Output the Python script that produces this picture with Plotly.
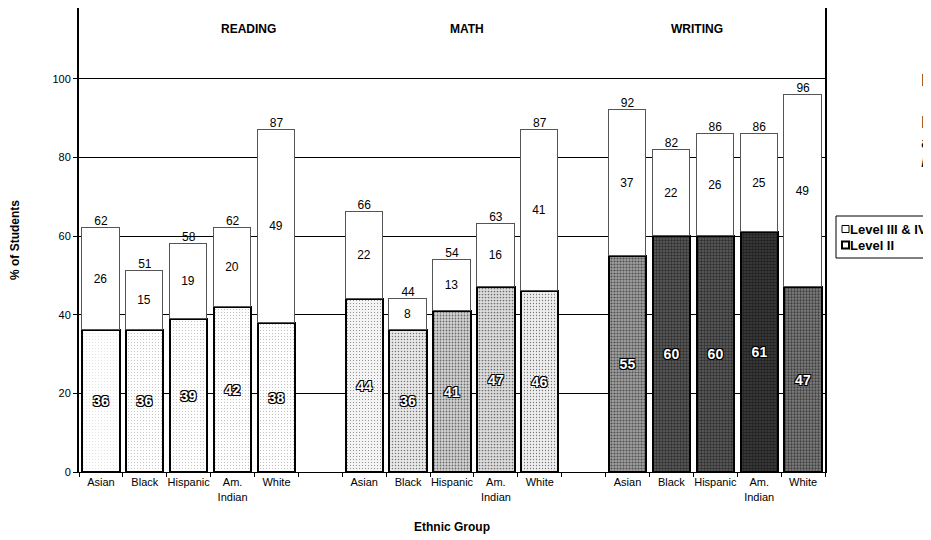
import plotly.graph_objects as go

# ethnic groups repeated for each subject, blank slot between subjects
groups = ['Asian', 'Black', 'Hispanic', 'Am.<br>Indian', 'White']
subjects = ['READING', 'MATH', 'WRITING']

level_2 = [36, 36, 39, 42, 38,
           44, 36, 41, 47, 46,
           55, 60, 60, 61, 47]
level_3_4 = [26, 15, 19, 20, 49,
             22, 8, 13, 16, 41,
             37, 22, 26, 25, 49]
totals = [62, 51, 58, 62, 87,
          66, 44, 54, 63, 87,
          92, 82, 86, 86, 96]

# the scanned Level II bars: background grey and density of the speckle
level_2_bg = ['white', 'white', 'white', 'white', 'white',
              '#f4f4f4', '#e8e8e8', '#d4d4d4', '#dcdcdc', '#eeeeee',
              '#a0a0a0', '#606060', '#606060', '#404040', '#808080']
level_2_speckle = [0.04, 0.05, 0.05, 0.07, 0.06,
                   0.1, 0.2, 0.3, 0.25, 0.15,
                   0.4, 0.5, 0.5, 0.6, 0.45]

legend_names = ['Level III & IV', 'Level II']
subject_label_pos = [3.37, 8.34, 13.58]
right_edge_text = ['F', 'F', 'a', '<i>M</i>']

x_pos = [s * 6 + g for s in range(len(subjects)) for g in range(len(groups))]
tick_text = groups * len(subjects)

FONT = 'Liberation Sans, Arial, sans-serif'
OUTLINE = '-1px -1px 0 #000, 1px -1px 0 #000, -1px 1px 0 #000, 1px 1px 0 #000'

# the page body keeps its 8px default margin, so the figure is 8px smaller
W, H = 923, 532
PLOT_L, PLOT_R, PLOT_T, PLOT_B = 79, 825, 8, 472   # page pixels


def px_x(x):
    return (x - PLOT_L) / (PLOT_R - PLOT_L)


def px_y(y):
    return (PLOT_B - y) / (PLOT_B - PLOT_T)


def bar_traces():
    '''stacked bars: Level II at the bottom, Level III & IV on top'''
    lower = go.Bar(
        x=x_pos, y=level_2, name=legend_names[1],
        width=0.85,
        text=[str(v) for v in level_2],
        textposition='inside', insidetextanchor='middle',
        textangle=0, constraintext='none',
        textfont=dict(family=FONT, size=14, color='white',
                      weight='bold', shadow=OUTLINE),
        marker=dict(
            color='white',
            line=dict(color='black', width=2),
            pattern=dict(shape='.', fgcolor='black', bgcolor=level_2_bg,
                         size=3, solidity=level_2_speckle),
        ),
        showlegend=False, hoverinfo='skip',
    )
    upper = go.Bar(
        x=x_pos, y=level_3_4, name=legend_names[0],
        width=0.85,
        text=[str(v) for v in level_3_4],
        textposition='inside', insidetextanchor='middle',
        textangle=0, constraintext='none',
        textfont=dict(family=FONT, size=12, color='black'),
        marker=dict(color='white', line=dict(color='#555', width=1)),
        showlegend=False, hoverinfo='skip',
    )
    tops = go.Scatter(
        x=x_pos, y=totals, mode='text',
        text=[str(v) for v in totals],
        textposition='top center',
        textfont=dict(family=FONT, size=12, color='black'),
        showlegend=False, hoverinfo='skip',
    )
    return [lower, upper, tops]


fig = go.Figure(bar_traces())

for name, pos in zip(subjects, subject_label_pos):
    fig.add_annotation(x=pos, y=112.7, text=f'<b>{name}</b>', showarrow=False,
                       font=dict(family=FONT, size=12, color='black'))

# cut-off text at the right edge of the scanned page
for txt, ypx in zip(right_edge_text, [69, 111, 131, 150]):
    fig.add_annotation(xref='paper', yref='paper',
                       x=px_x(919), y=px_y(ypx),
                       xanchor='left', text=txt, showarrow=False,
                       font=dict(family=FONT, size=17, color='black'))

# legend box as in the scan (runs off the right edge)
fig.add_shape(type='rect', xref='paper', yref='paper',
              x0=px_x(836), x1=px_x(960), y0=px_y(258), y1=px_y(216),
              line=dict(color='black', width=1), fillcolor='white')
for i, (name, lw) in enumerate(zip(legend_names, [1, 2])):
    yc = 229 + 16 * i
    fig.add_shape(type='rect', xref='paper', yref='paper',
                  x0=px_x(842), x1=px_x(849), y0=px_y(yc + 3.5), y1=px_y(yc - 3.5),
                  line=dict(color='black', width=lw), fillcolor='white')
    fig.add_annotation(xref='paper', yref='paper', x=px_x(848), y=px_y(yc),
                       xanchor='left', yanchor='middle', text=f'<b>{name}</b>',
                       showarrow=False,
                       font=dict(family=FONT, size=13, color='black'))

fig.update_layout(
    width=W, height=H,
    margin=dict(l=PLOT_L - 8, r=W - (PLOT_R - 8), t=PLOT_T - 8,
                b=H - (PLOT_B - 8), autoexpand=False),
    barmode='stack', bargap=0,
    plot_bgcolor='white', paper_bgcolor='white',
    font=dict(family=FONT, size=11, color='black'),
    showlegend=False,
    xaxis=dict(
        range=[-0.5, 16.5], automargin=False,
        tickvals=x_pos, ticktext=tick_text, ticks='',
        tickfont=dict(family=FONT, size=11),
        minor=dict(tickvals=[i - 0.5 for i in range(18)], ticks='outside',
                   ticklen=4, tickcolor='black', showgrid=False),
        showline=True, linecolor='black', linewidth=1,
        showgrid=False, zeroline=False,
        title=dict(text='<b>Ethnic Group</b>', standoff=21,
                   font=dict(family=FONT, size=12)),
    ),
    yaxis=dict(
        range=[0, 118], automargin=False,
        tickvals=[0, 20, 40, 60, 80, 100],
        ticks='outside', ticklen=4, tickcolor='black',
        tickfont=dict(family=FONT, size=11),
        showline=True, linecolor='black', linewidth=2, mirror=True,
        showgrid=True, gridcolor='black', gridwidth=1,
        zeroline=False,
        title=dict(text='<b>% of Students</b>', standoff=30,
                   font=dict(family=FONT, size=12)),
    ),
)

fig.write_html('out.html')
